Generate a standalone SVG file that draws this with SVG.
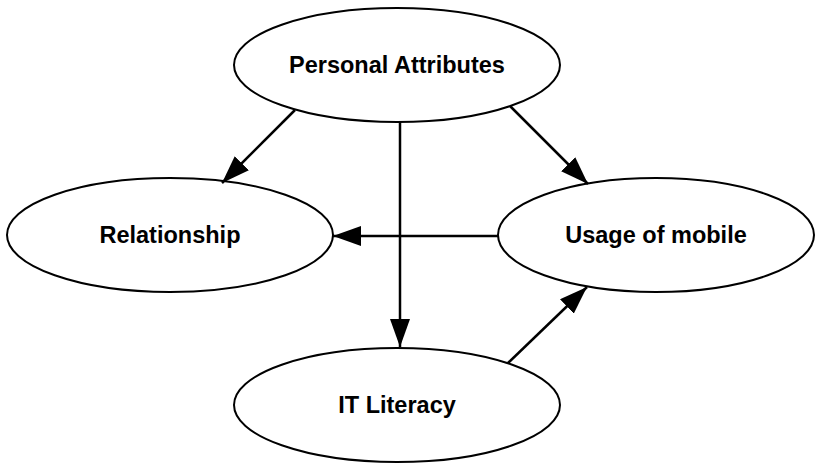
<svg xmlns="http://www.w3.org/2000/svg" width="817" height="465" viewBox="0 0 817 465">
<style>
.node ellipse{fill:#fff;stroke:#000;stroke-width:2}
.node text{font-family:"Liberation Sans",Arial,sans-serif;font-weight:bold;font-size:23.5px;text-anchor:middle;fill:#000}
.edge{stroke:#000;stroke-width:2.5;fill:none;marker-end:url(#ah)}
</style>
<defs>
<marker id="ah" markerUnits="userSpaceOnUse" markerWidth="30" markerHeight="20" refX="28" refY="10" orient="auto">
<path d="M0,0 L28,10 L0,20 Z" fill="#000"/>
</marker>
</defs>
<g id="n-personal" class="node"><ellipse cx="397" cy="65" rx="163" ry="57"/><text x="397" y="73">Personal Attributes</text></g>
<g id="n-relationship" class="node"><ellipse cx="170" cy="235" rx="163" ry="57"/><text x="170" y="243">Relationship</text></g>
<g id="n-usage" class="node"><ellipse cx="656" cy="235" rx="158" ry="57"/><text x="656" y="243">Usage of mobile</text></g>
<g id="n-it" class="node"><ellipse cx="397" cy="405" rx="163" ry="57"/><text x="397" y="413">IT Literacy</text></g>
<g id="connectors">
<line class="edge" x1="295" y1="110" x2="222" y2="183"/>
<line class="edge" x1="510" y1="106" x2="588" y2="184"/>
<line class="edge" x1="400" y1="122" x2="400" y2="347"/>
<line class="edge" x1="498" y1="236" x2="333" y2="236"/>
<line class="edge" x1="508" y1="363" x2="587" y2="287"/>
</g>
</svg>
